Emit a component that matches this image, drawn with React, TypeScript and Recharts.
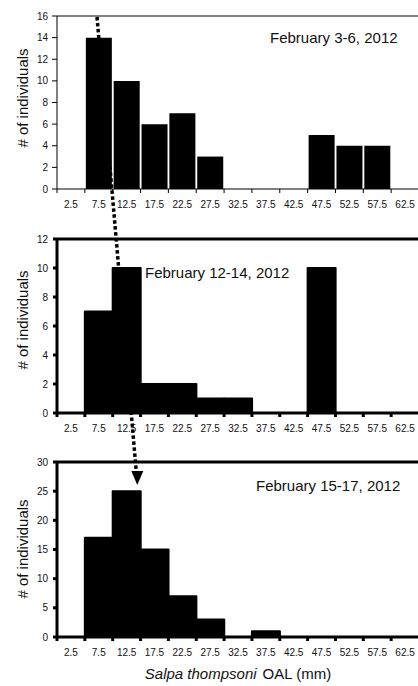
import React from 'react';
import { BarChart, Bar, XAxis, YAxis, ReferenceLine, Label } from 'recharts';

// ---------- data ----------
const bins = ['2.5', '7.5', '12.5', '17.5', '22.5', '27.5', '32.5', '37.5', '42.5', '47.5', '52.5', '57.5', '62.5'];
const countsFeb3to6 = [0, 14, 10, 6, 7, 3, 0, 0, 0, 5, 4, 4, 0];
const countsFeb12to14 = [0, 7, 10, 2, 2, 1, 1, 0, 0, 10, 0, 0, 0];
const countsFeb15to17 = [0, 17, 25, 15, 7, 3, 0, 1, 0, 0, 0, 0, 0];
const yTicksFeb3to6 = [0, 2, 4, 6, 8, 10, 12, 14, 16];
const yTicksFeb12to14 = [0, 2, 4, 6, 8, 10, 12];
const yTicksFeb15to17 = [0, 5, 10, 15, 20, 25, 30];
const panelTitles = ['February 3-6, 2012', 'February 12-14, 2012', 'February 15-17, 2012'];
const yTitle = '# of individuals';
const xTitleItalic = 'Salpa thompsoni';
const xTitleRest = 'OAL (mm)';

// ---------- layout ----------
const FONT = '"Liberation Sans", Arial, Helvetica, sans-serif';
const INK = '#111';
const CHART_W = 419;
const AXIS_W = 57;
const PLOT_W = CHART_W - AXIS_W;

type Panel = {
  top: number;
  marginTop: number;
  plotH: number;
  xAxisH: number;
  thick: boolean;
  counts: number[];
  ticks: number[];
  yLabelCy: number;
  withXTitle: boolean;
};

const panels: Panel[] = [
  { top: 0, marginTop: 16, plotH: 173, xAxisH: 26, thick: false, counts: countsFeb3to6, ticks: yTicksFeb3to6, yLabelCy: 98, withXTitle: false },
  { top: 225, marginTop: 14, plotH: 174, xAxisH: 26, thick: true, counts: countsFeb12to14, ticks: yTicksFeb12to14, yLabelCy: 95, withXTitle: false },
  { top: 448, marginTop: 14, plotH: 175, xAxisH: 48, thick: true, counts: countsFeb15to17, ticks: yTicksFeb15to17, yLabelCy: 101, withXTitle: true },
];

function makeBinTick(baseline: number, thick: boolean) {
  const step = PLOT_W / bins.length;
  return (props: any) => {
    const { x, payload } = props;
    const bx = x - step / 2;
    return (
      <g>
        <line
          x1={bx}
          x2={bx}
          y1={baseline}
          y2={baseline + 4}
          stroke="#000"
          strokeWidth={thick ? 3 : 1}
        />
        <text
          x={x}
          y={baseline + 15}
          dy="0.355em"
          textAnchor="middle"
          fontSize={10}
          fill={INK}
          fontFamily={FONT}
        >
          {payload.value}
        </text>
      </g>
    );
  };
}

function PanelChart({ p }: { p: Panel }) {
  const data = bins.map((bin, i) => ({ bin, count: p.counts[i] }));
  const yMax = p.ticks[p.ticks.length - 1];
  const baseline = p.marginTop + p.plotH;
  const lineW = p.thick ? 3 : 1;
  const height = p.marginTop + p.plotH + p.xAxisH;
  const yLabelCy = p.yLabelCy;
  return (
    <div style={{ position: 'absolute', left: 0, top: p.top, width: CHART_W, height }}>
      <BarChart
        width={CHART_W}
        height={height}
        data={data}
        margin={{ top: p.marginTop, right: 0, bottom: 0, left: 0 }}
        barCategoryGap={p.thick ? 0 : 1}
      >
        <XAxis
          dataKey="bin"
          type="category"
          interval={0}
          height={p.xAxisH}
          tickLine={false}
          axisLine={{ stroke: '#000', strokeWidth: lineW }}
          tick={makeBinTick(baseline, p.thick)}
        >
          {p.withXTitle && (
            <Label
              content={(lp: any) => {
                const vb = lp.viewBox || { x: AXIS_W, y: baseline, width: PLOT_W };
                return (
                  <text
                    x={vb.x + vb.width / 2}
                    y={baseline + 42}
                    textAnchor="middle"
                    fontSize={15}
                    fill={INK}
                    fontFamily={FONT}
                  >
                    <tspan fontStyle="italic">{xTitleItalic}</tspan>
                    <tspan dx={6}>{xTitleRest}</tspan>
                  </text>
                );
              }}
            />
          )}
        </XAxis>
        <YAxis
          type="number"
          width={AXIS_W}
          domain={[0, yMax]}
          ticks={p.ticks}
          interval={0}
          tickSize={p.thick ? 4 : 5}
          tickMargin={p.thick ? 5 : 4}
          axisLine={{ stroke: '#000', strokeWidth: lineW }}
          tickLine={{ stroke: '#000', strokeWidth: lineW }}
          tick={{ fontSize: 10, fill: INK, fontFamily: FONT }}
        >
          <Label
            content={() => (
              <text
                x={28}
                y={yLabelCy}
                transform={`rotate(-90, 28, ${yLabelCy})`}
                textAnchor="middle"
                fontSize={15}
                fill={INK}
                fontFamily={FONT}
              >
                {yTitle}
              </text>
            )}
          />
        </YAxis>
        {p.thick && (
          <YAxis
            yAxisId="right"
            orientation="right"
            width={0}
            domain={[0, yMax]}
            tick={false}
            tickLine={false}
            axisLine={{ stroke: '#000', strokeWidth: 3 }}
          />
        )}
        <ReferenceLine y={yMax} stroke="#000" strokeWidth={lineW} />
        <Bar
          dataKey="count"
          fill="#000"
          stroke={p.thick ? '#000' : 'none'}
          strokeWidth={p.thick ? 2 : 0}
          strokeLinejoin="round"
          isAnimationActive={false}
        />
      </BarChart>
    </div>
  );
}

// annotation: dotted arrow linking the modal size class across the three dates
const arrowStart = { x: 97, y: 17 };
const arrowEnd = { x: 136.3, y: 472 };
const arrowHead = '131.3,471 143.3,471 137.3,485';

const titlePos = [
  { x: 270, y: 43 },
  { x: 145, y: 278 },
  { x: 256, y: 491 },
];

export default function App() {
  return (
    <div
      style={{
        position: 'absolute',
        left: 0,
        top: 0,
        width: 418,
        height: 686,
        overflow: 'hidden',
        background: '#fff',
      }}
    >
      {panels.map((p, i) => (
        <PanelChart key={i} p={p} />
      ))}
      <svg
        width={418}
        height={686}
        style={{ position: 'absolute', left: 0, top: 0, pointerEvents: 'none' }}
      >
        {panelTitles.map((t, i) => (
          <text key={t} x={titlePos[i].x} y={titlePos[i].y} fontSize={15} fill={INK} fontFamily={FONT}>
            {t}
          </text>
        ))}
        <line
          x1={arrowStart.x}
          y1={arrowStart.y}
          x2={arrowEnd.x}
          y2={arrowEnd.y}
          stroke="#000"
          strokeWidth={3.5}
          strokeDasharray="3.5 2.5"
        />
        <polygon points={arrowHead} fill="#000" />
      </svg>
    </div>
  );
}
